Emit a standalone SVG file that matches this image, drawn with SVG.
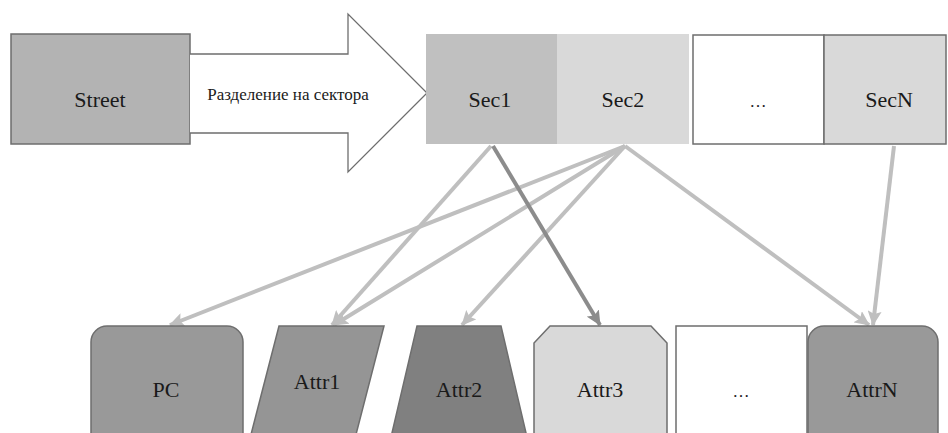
<svg xmlns="http://www.w3.org/2000/svg" width="948" height="433" viewBox="0 0 948 433" font-family="'Liberation Serif', 'DejaVu Serif', 'Times New Roman', serif">
<style>
text{font-family:'Liberation Serif','DejaVu Serif','Times New Roman',serif;fill:#1a1a1a;text-anchor:middle}
.lbl{font-size:22px}
.small{font-size:17px}
.node{stroke:#6e6e6e;stroke-width:1.5}
.lc{stroke:#bfbfbf;stroke-width:4;fill:none;marker-end:url(#ah)}
.dc{stroke:#8c8c8c;stroke-width:4;fill:none;marker-end:url(#ahd)}
</style>
<defs>
<marker id="ah" markerUnits="userSpaceOnUse" markerWidth="16" markerHeight="14" refX="14" refY="7" orient="auto">
<path d="M0,0 L15,7 L0,14 L3,7 z" fill="#bfbfbf"/>
</marker>
<marker id="ahd" markerUnits="userSpaceOnUse" markerWidth="16" markerHeight="14" refX="14" refY="7" orient="auto">
<path d="M0,0 L15,7 L0,14 L3,7 z" fill="#8c8c8c"/>
</marker>
</defs>
<rect width="948" height="433" fill="#fff"/>
<g id="street">
<rect class="node" x="11" y="34" width="179" height="110" fill="#b3b3b3"/>
<text class="lbl" x="100" y="107">Street</text>
</g>
<g id="split-arrow">
<path d="M190,54 L348,54 L348,14 L427,93 L348,172 L348,133 L190,133" fill="#fff" stroke="#6e6e6e" stroke-width="1.3"/>
<text class="small" x="288" y="100">Разделение на сектора</text>
</g>
<g id="sec1">
<rect x="426" y="34" width="131" height="110" fill="#c0c0c0"/>
<text class="lbl" x="490" y="107">Sec1</text>
</g>
<g id="sec2">
<rect x="557" y="34" width="132" height="110" fill="#d9d9d9"/>
<text class="lbl" x="623" y="107">Sec2</text>
</g>
<g id="sec-dots">
<rect class="node" x="693" y="35" width="131" height="109" fill="#fff"/>
<text class="small" x="758" y="107">…</text>
</g>
<g id="secN">
<rect class="node" x="824" y="35" width="122" height="109" fill="#d9d9d9"/>
<text class="lbl" x="889" y="107">SecN</text>
</g>
<g id="connectors">
<line class="lc" x1="625" y1="146" x2="170" y2="325"/>
<line class="lc" x1="491" y1="146" x2="332" y2="325"/>
<line class="lc" x1="625" y1="146" x2="334" y2="325"/>
<line class="lc" x1="625" y1="146" x2="462" y2="325"/>
<line class="dc" x1="493" y1="146" x2="600" y2="325"/>
<line class="lc" x1="625" y1="146" x2="869" y2="325"/>
<line class="lc" x1="894" y1="146" x2="873" y2="325"/>
</g>
<g id="pc">
<rect class="node" x="91" y="326" width="152" height="130" rx="16" fill="#999"/>
<text class="lbl" x="166" y="397">PC</text>
</g>
<g id="attr1">
<path class="node" d="M279,326 L384,326 L352,450 L247,450 z" fill="#959595"/>
<text class="lbl" x="317" y="389">Attr1</text>
</g>
<g id="attr2">
<path class="node" d="M417,326 L501,326 L530,450 L388,450 z" fill="#808080"/>
<text class="lbl" x="459" y="397">Attr2</text>
</g>
<g id="attr3">
<path class="node" d="M550,326 L651,326 L667,343 L667,450 L534,450 L534,343 z" fill="#d9d9d9"/>
<text class="lbl" x="600" y="397">Attr3</text>
</g>
<g id="attr-dots">
<rect class="node" x="676" y="326" width="131" height="130" fill="#fff"/>
<text class="small" x="741" y="397">…</text>
</g>
<g id="attrN">
<rect class="node" x="808" y="326" width="130" height="130" rx="16" fill="#999"/>
<text class="lbl" x="872" y="397">AttrN</text>
</g>
</svg>
